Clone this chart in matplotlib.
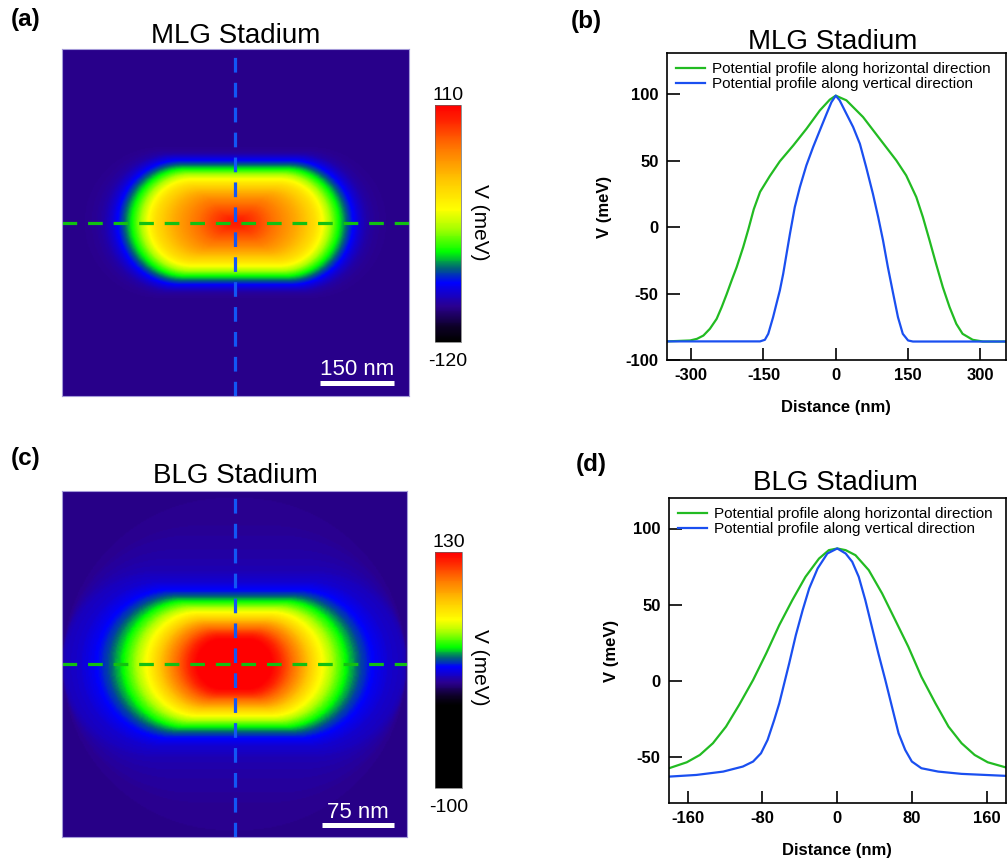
import numpy as np
import matplotlib
matplotlib.use("Agg")
import matplotlib.pyplot as plt
from matplotlib.colors import LinearSegmentedColormap, Normalize
from matplotlib.cm import ScalarMappable

plt.rcParams['font.family'] = ['Liberation Sans', 'DejaVu Sans']
plt.rcParams['axes.unicode_minus'] = False

# --- profiles: MLG stadium ---
mlg_h_x = [-350, -302, -288, -274.5, -261, -247, -236.6, -226, -216, -205.5, -192, -181, -170,
           -157, -136.6, -116, -88, -60.7, -33, -12.4, 0, 22, 56.6, 91, 125.5, 146, 167,
           180.7, 194.5, 208, 222, 236, 250, 263, 284, 305, 352]
mlg_h_v = [-86, -85.3, -84.1, -81.6, -76.5, -69, -60.2, -50.2, -40.2, -30.1, -15.1, -1.3, 13.5,
           26.5, 38.5, 49.5, 61.5, 74, 87.8, 95.9, 98.9, 95.4, 82.8, 66.5, 50.2, 38.9, 22.6,
           7.5, -10, -27.6, -45.2, -60.2, -72.8, -80.3, -84.8, -86.1, -86.1]
mlg_v_x = [-350, -157, -147, -140, -130, -123, -116, -109, -102, -95, -85, -74.5, -61, -47, -33,
           -19, -9, 0, 8, 22, 36, 50, 63, 77, 88, 98, 108, 119, 129, 139, 150, 160, 352]
mlg_v_v = [-86, -86, -84.8, -80.3, -67.8, -57.7, -47.7, -35.1, -20, -5, 15, 30, 46.4, 60.2, 72.8,
           85.3, 94, 98.9, 95.4, 85.3, 75.3, 62.7, 45.2, 25.1, 7.5, -10, -30, -50, -67.8, -80.3,
           -85.3, -86.1, -86.1]

# --- profiles: BLG stadium ---
blg_h_x = [-180, -161, -147, -133, -119, -105, -90, -76, -62, -48, -34, -19.5, -9, 0, 9, 19.5,
           33.7, 48, 62, 76, 90, 105, 119, 133, 147, 161, 180]
blg_h_v = [-57.2, -53.3, -48.5, -40.8, -29.9, -15.7, 0.7, 18.1, 36.7, 53.1, 68.3, 80.3, 85.8, 86.9,
           85.8, 82.5, 72.7, 57.4, 40, 22.5, 2.8, -14.6, -29.9, -40.8, -48.5, -53.3, -56.6]
blg_v_x = [-180, -150.7, -122, -101, -90, -81.6, -74.5, -67.4, -62, -56.7, -51.4, -44.3, -37, -30,
           -21, -10.6, 0, 9, 16, 23, 30, 37, 44, 51.4, 58.5, 65.6, 72.7, 79.8, 90, 108, 133, 180]
blg_v_v = [-62.7, -61.6, -59.4, -56.1, -52.8, -47.4, -38.6, -25.5, -14.6, -1.5, 11.6, 30.1, 46.5,
           60.7, 73.8, 83.6, 86.9, 83.6, 78.2, 68.3, 53.1, 35.6, 18.1, 0.7, -16.8, -34.3, -45.2,
           -52.8, -57.2, -59.4, -60.9, -62.2]

mlg_ticks_x = [-300, -150, 0, 150, 300]
mlg_ticks_y = [100, 50, 0, -50, -100]
blg_ticks_x = [-160, -80, 0, 80, 160]
blg_ticks_y = [100, 50, 0, -50]

GREEN = '#22bb22'
BLUE = '#1a4ff0'
DASH_GREEN = '#12c012'
DASH_BLUE = '#1256f5'

# colour table as in the colour bars
stops = [(0.00, '#000000'), (0.06, '#0c0024'), (0.15, '#2a0090'), (0.25, '#0000ff'),
         (0.31, '#00607a'), (0.38, '#00ff00'), (0.48, '#aaff00'), (0.56, '#ffff00'),
         (0.68, '#ffc800'), (0.83, '#ff7000'), (0.94, '#ff2000'), (1.00, '#ff0000')]
cmap_mlg = LinearSegmentedColormap.from_list('mlg', stops)
cmap_blg = LinearSegmentedColormap.from_list(
    'blg', [(0.0, '#000000'), (0.35, '#000000')] + [(0.35 + 0.65 * p, c) for p, c in stops[1:]])


def half_extent(xs, vs, levels):
    xs = np.asarray(xs, float)
    vs = np.asarray(vs, float)
    out = []
    for side in (xs >= 0, xs <= 0):
        d = np.abs(xs[side])
        v = vs[side]
        o = np.argsort(d)
        d, v = d[o], np.minimum.accumulate(v[o])
        out.append(np.interp(levels, v[::-1], d[::-1]))
    return 0.5 * (out[0] + out[1])


def stadium_map(hx, hv, vx, vv, half, n=301):
    # level sets are stadiums whose half length / half height follow the two profiles
    g = np.linspace(-half, half, n)
    X, Y = np.meshgrid(g, g)
    base = min(min(hv), min(vv))
    levels = np.linspace(base, max(max(hv), max(vv)), 300)
    a = half_extent(hx, hv, levels)
    b = half_extent(vx, vv, levels)
    field = np.full(X.shape, base)
    for lev, ai, bi in zip(levels, a, b):
        r = min(ai, bi)
        seg = max(ai - bi, 0)
        field[np.maximum(np.abs(X) - seg, 0) ** 2 + Y ** 2 <= r ** 2] = lev
    return field


W, H = 1007, 865
fig = plt.figure(figsize=(W / 100, H / 100), dpi=100)


def px_axes(x0, y0, x1, y1):
    return fig.add_axes([x0 / W, 1 - y1 / H, (x1 - x0) / W, (y1 - y0) / H])


def ftext(x, y, s, **kw):
    fig.text(x / W, 1 - y / H, s, **kw)


def heatmap(box, field, half, cmap, vmin, vmax, bar_len, bar_y, bar_x0, txt_y):
    ax = px_axes(*box)
    ax.imshow(field, extent=[-half, half, -half, half], origin='lower', cmap=cmap,
              vmin=vmin, vmax=vmax, aspect='auto', interpolation='bilinear')
    ax.plot([0, 0], [-half, half], color=DASH_BLUE, lw=2.3, dashes=(4.6, 3.2))
    ax.plot([-half, half], [0, 0], color=DASH_GREEN, lw=2.3, dashes=(4.6, 3.4))
    ax.plot([bar_x0, bar_x0 + bar_len], [bar_y, bar_y], color='white', lw=3.6,
            solid_capstyle='butt')
    ax.text(bar_x0 + bar_len / 2, txt_y, f'{bar_len} nm', color='white', fontsize=16,
            ha='center', va='baseline')
    ax.set_xlim(-half, half)
    ax.set_ylim(-half, half)
    ax.set_xticks([])
    ax.set_yticks([])
    for s in ax.spines.values():
        s.set_color('#a49ad8')
        s.set_linewidth(0.8)
    return ax


def cbar(box, cmap, vmin, vmax, lab_x, lab_y):
    cax = px_axes(*box)
    cb = fig.colorbar(ScalarMappable(norm=Normalize(vmin, vmax), cmap=cmap), cax=cax)
    cb.set_ticks([])
    cb.outline.set_linewidth(0.5)
    cb.outline.set_edgecolor('#666666')
    xc = (box[0] + box[2]) / 2
    ftext(xc, box[1] - 5, str(vmax), fontsize=14, ha='center', va='baseline')
    ftext(xc, box[3] + 24, str(vmin), fontsize=14, ha='center', va='baseline')
    ftext(lab_x, lab_y, 'V (meV)', fontsize=15, rotation=270, ha='center', va='center')


def profile(box, hx, hv, vx, vv, xlim, ylim, xt, yt):
    ax = px_axes(*box)
    ax.plot(hx, hv, color=GREEN, lw=1.6, label='Potential profile along horizontal direction')
    ax.plot(vx, vv, color=BLUE, lw=1.6, label='Potential profile along vertical direction')
    ax.set_xlim(*xlim)
    ax.set_ylim(*ylim)
    ax.set_xticks(xt)
    ax.set_yticks(yt)
    ax.tick_params(direction='in', length=9, width=1.2, pad=6, labelsize=12)
    for lab in ax.get_xticklabels() + ax.get_yticklabels():
        lab.set_fontweight('bold')
    for s in ax.spines.values():
        s.set_linewidth(1.2)
    ax.set_xlabel('Distance (nm)', fontsize=12, fontweight='bold', labelpad=12)
    ax.set_ylabel('V (meV)', fontsize=12, fontweight='bold', labelpad=10)
    ax.legend(loc='upper left', bbox_to_anchor=(0.0, 1.0), frameon=False, fontsize=11,
              handlelength=1.9, handletextpad=0.45, labelspacing=0.08, borderaxespad=0.4,
              borderpad=0.2)
    return ax


# (a) MLG map
mlg_map = stadium_map(mlg_h_x, mlg_h_v, mlg_v_x, mlg_v_v, 350)
heatmap((62, 49, 409, 396), mlg_map, 350, cmap_mlg, -120, 110, 150, -324, 170, -307)
cbar((435, 105, 461, 342), cmap_mlg, -120, 110, 480, 222)

# (c) BLG map
blg_map = stadium_map(blg_h_x, blg_h_v, blg_v_x, blg_v_v, 180)
heatmap((62, 491, 407, 837), blg_map, 180, cmap_blg, -165, 65, 75, -167.6, 91, -160)
cbar((435, 552, 462, 788), cmap_blg, -100, 130, 479, 667)

# (b), (d) line profiles
profile((667, 53, 1005.5, 360), mlg_h_x, mlg_h_v, mlg_v_x, mlg_v_v,
        (-350, 352), (-100, 131), mlg_ticks_x, mlg_ticks_y)
profile((669, 498, 1005.5, 803), blg_h_x, blg_h_v, blg_v_x, blg_v_v,
        (-180, 180), (-80, 120), blg_ticks_x, blg_ticks_y)

# titles and panel letters
ftext(236, 43, 'MLG Stadium', fontsize=20, ha='center', va='baseline')
ftext(235, 483, 'BLG Stadium', fontsize=20, ha='center', va='baseline')
ftext(833, 49, 'MLG Stadium', fontsize=20, ha='center', va='baseline')
ftext(835, 490.5, 'BLG Stadium', fontsize=20, ha='center', va='baseline')
ftext(11, 26, '(a)', fontsize=17.5, fontweight='bold', va='baseline')
ftext(571, 28, '(b)', fontsize=17.5, fontweight='bold', va='baseline')
ftext(11, 465, '(c)', fontsize=17.5, fontweight='bold', va='baseline')
ftext(576, 471, '(d)', fontsize=17.5, fontweight='bold', va='baseline')

fig.savefig('out.png', dpi=100)
